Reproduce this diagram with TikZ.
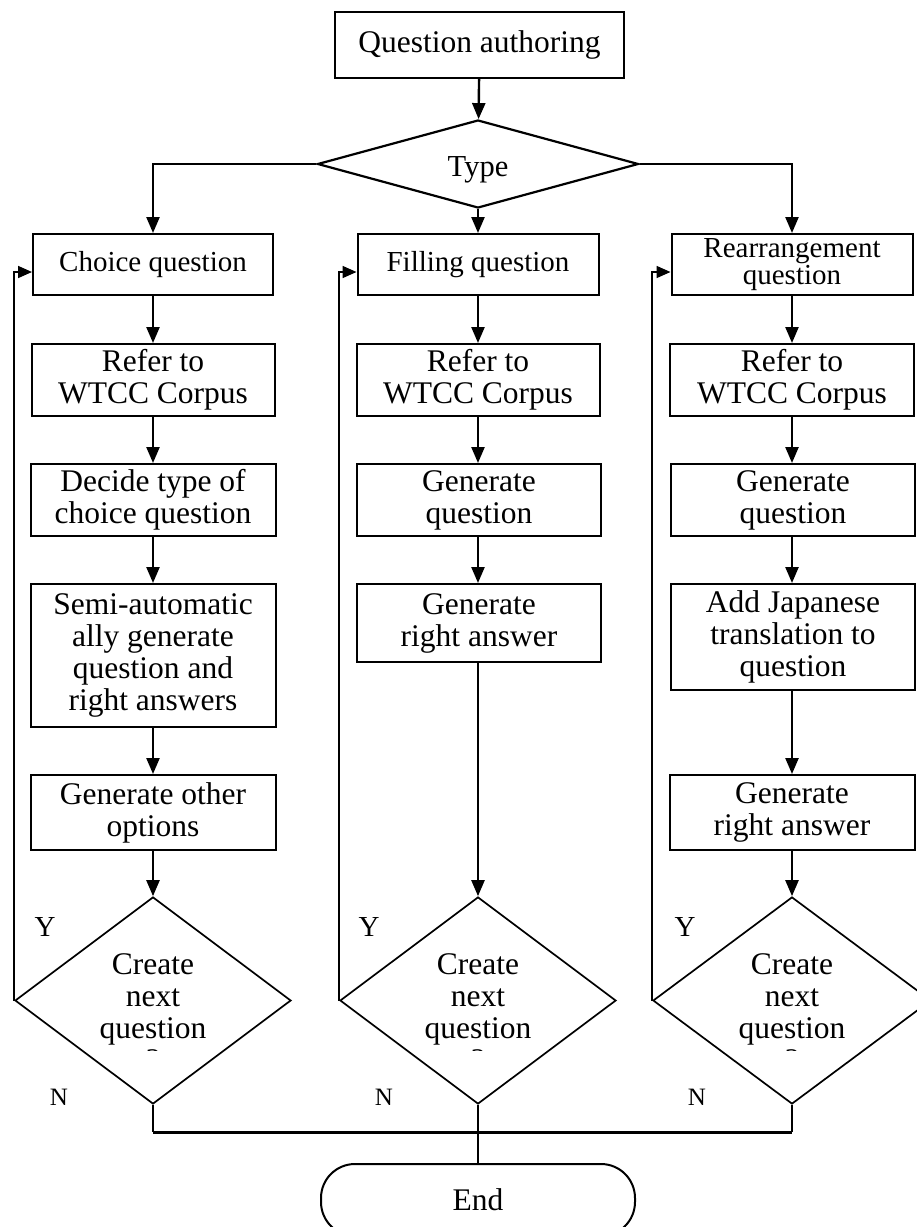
\documentclass[tikz,border=0pt]{standalone}
\usepackage{fontspec}
\setmainfont{Liberation Serif}
\usetikzlibrary{arrows.meta,shapes.geometric}
\begin{document}
\begin{tikzpicture}[x=1pt,y=-1pt,
  box/.style={draw,line width=2pt,inner sep=0pt,align=center,
    font=\fontsize{31.5}{32}\selectfont},
  headbox/.style={box,minimum height=61pt,font=\fontsize{29}{30}\selectfont},
  decision/.style={draw,diamond,line width=1.7pt,inner sep=0pt,shape aspect=3.6},
  dtext/.style={inner sep=0pt,align=center,font=\fontsize{31.5}{32}\selectfont},
  flow/.style={line width=2.4pt,-{Triangle[length=16pt,width=13pt]}},
  plain/.style={line width=2.2pt},
  loopback/.style={line width=1.7pt,-{Triangle[length=14pt,width=12pt]}},
  ylab/.style={inner sep=0pt,font=\fontsize{29}{29}\selectfont},
  nlab/.style={inner sep=0pt,font=\fontsize{25}{25}\selectfont}]
\useasboundingbox (0,0) rectangle (917,1227);

% start and type decision
\node[box,minimum width=289pt,minimum height=66pt] (qa) at (479.5,45) {Question authoring};
\node[decision,line width=2.2pt,minimum width=321pt,minimum height=88pt,
  font=\fontsize{30.5}{30}\selectfont] (type) at (478,164) {\raisebox{-6pt}[\height][\depth]{Type}};

% column heads
\node[headbox,minimum width=240pt] (choice) at (153,264.5) {Choice question};
\node[headbox,minimum width=241pt] (filling) at (478,264.5) {Filling question};
\node[headbox,minimum width=241pt,font=\fontsize{29}{20}\selectfont] (rearr) at (792,264.5) {Rearrangement\\question};

% choice question column
\node[box,minimum width=243pt,minimum height=72pt] (refer1) at (153,380) {Refer to\\WTCC Corpus};
\node[box,minimum width=245pt,minimum height=72pt] (decide) at (153,500) {Decide type of\\choice question};
\node[box,minimum width=245pt,minimum height=143pt] (semi) at (153,655.5) {Semi-automatic\\ally generate\\question and\\right answers};
\node[box,minimum width=245pt,minimum height=75pt] (other) at (153,812.5) {Generate other\\options};
\node[decision,minimum width=276pt,minimum height=207pt] (d1) at (153,1000.5) {};

% filling question column
\node[box,minimum width=243pt,minimum height=72pt] (refer2) at (478,380) {Refer to\\WTCC Corpus};
\node[box,minimum width=244pt,minimum height=72pt] (genq2) at (479,500) {Generate\\question};
\node[box,minimum width=244pt,minimum height=78pt] (genra2) at (479,623) {Generate\\right answer};
\node[decision,minimum width=276pt,minimum height=207pt] (d2) at (478,1000.5) {};

% rearrangement question column
\node[box,minimum width=244pt,minimum height=72pt] (refer3) at (792,380) {Refer to\\WTCC Corpus};
\node[box,minimum width=244pt,minimum height=72pt] (genq3) at (793,500) {Generate\\question};
\node[box,minimum width=244pt,minimum height=106pt] (addjp) at (793,637) {Add Japanese\\translation to\\question};
\node[box,minimum width=245pt,minimum height=75pt] (genra3) at (792,812.5) {Generate\\right answer};
\node[decision,minimum width=278pt,minimum height=207pt] (d3) at (792,1000.5) {};

% decision texts, last line cut off by the lower edge
\begin{scope}
  \clip (0,900) rectangle (917,1050);
  \node[dtext] (t1) at (153,1012.5) {Create\\next\\question\\?};
  \node[dtext] (t2) at (478,1012.5) {Create\\next\\question\\?};
  \node[dtext] (t3) at (792,1012.5) {Create\\next\\question\\?};
\end{scope}

% end terminal
\node[draw,line width=2pt,rounded corners=34pt,minimum width=314pt,minimum height=72pt,
  inner sep=0pt,font=\fontsize{31.5}{32}\selectfont] (end) at (478,1200) {End};

% Y / N labels
\node[ylab] (y1) at (45,927) {Y};
\node[ylab] (y2) at (369,927) {Y};
\node[ylab] (y3) at (685,927) {Y};
\node[nlab] (n1) at (59,1097) {N};
\node[nlab] (n2) at (384,1097) {N};
\node[nlab] (n3) at (697,1097) {N};

% top flow
\draw[flow] (qa) -- (type);
\draw[flow] (type.west) -| (choice.north);
\draw[flow] (type.south) -- (filling.north);
\draw[flow] (type.east) -| (rearr.north);

% column flows
\draw[flow] (choice) -- (refer1);
\draw[flow] (refer1) -- (decide);
\draw[flow] (decide) -- (semi);
\draw[flow] (semi) -- (other);
\draw[flow] (other) -- (d1);

\draw[flow] (filling) -- (refer2.north);
\draw[flow] (refer2.south) -- (refer2.south |- genq2.north);
\draw[flow] (refer2.south |- genq2.south) -- (refer2.south |- genra2.north);
\draw[flow] (refer2.south |- genra2.south) -- (d2.north);

\draw[flow] (rearr.south) -- (refer3.north);
\draw[flow] (refer3.south) -- (refer3.south |- genq3.north);
\draw[flow] (refer3.south |- genq3.south) -- (refer3.south |- addjp.north);
\draw[flow] (refer3.south |- addjp.south) -- (genra3.north);
\draw[flow] (genra3.south) -- (d3.north);

% loop back on Y
\draw[loopback] (d1.west) |- ([yshift=-7.5pt]choice.west);
\draw[loopback] (d2.west) |- ([yshift=-7.5pt]filling.west);
\draw[loopback] (d3.west) |- ([yshift=-7.5pt]rearr.west);

% merge on N
\coordinate (j1) at (153,1132);
\coordinate (j3) at (792,1132);
\draw[plain] (d1.south) -- (j1);
\draw[plain] (d3.south) -- (j3);
\draw[line width=3pt] (j1) -- (j3);
\draw[plain] (d2.south) -- (end.north);
\end{tikzpicture}
\end{document}
